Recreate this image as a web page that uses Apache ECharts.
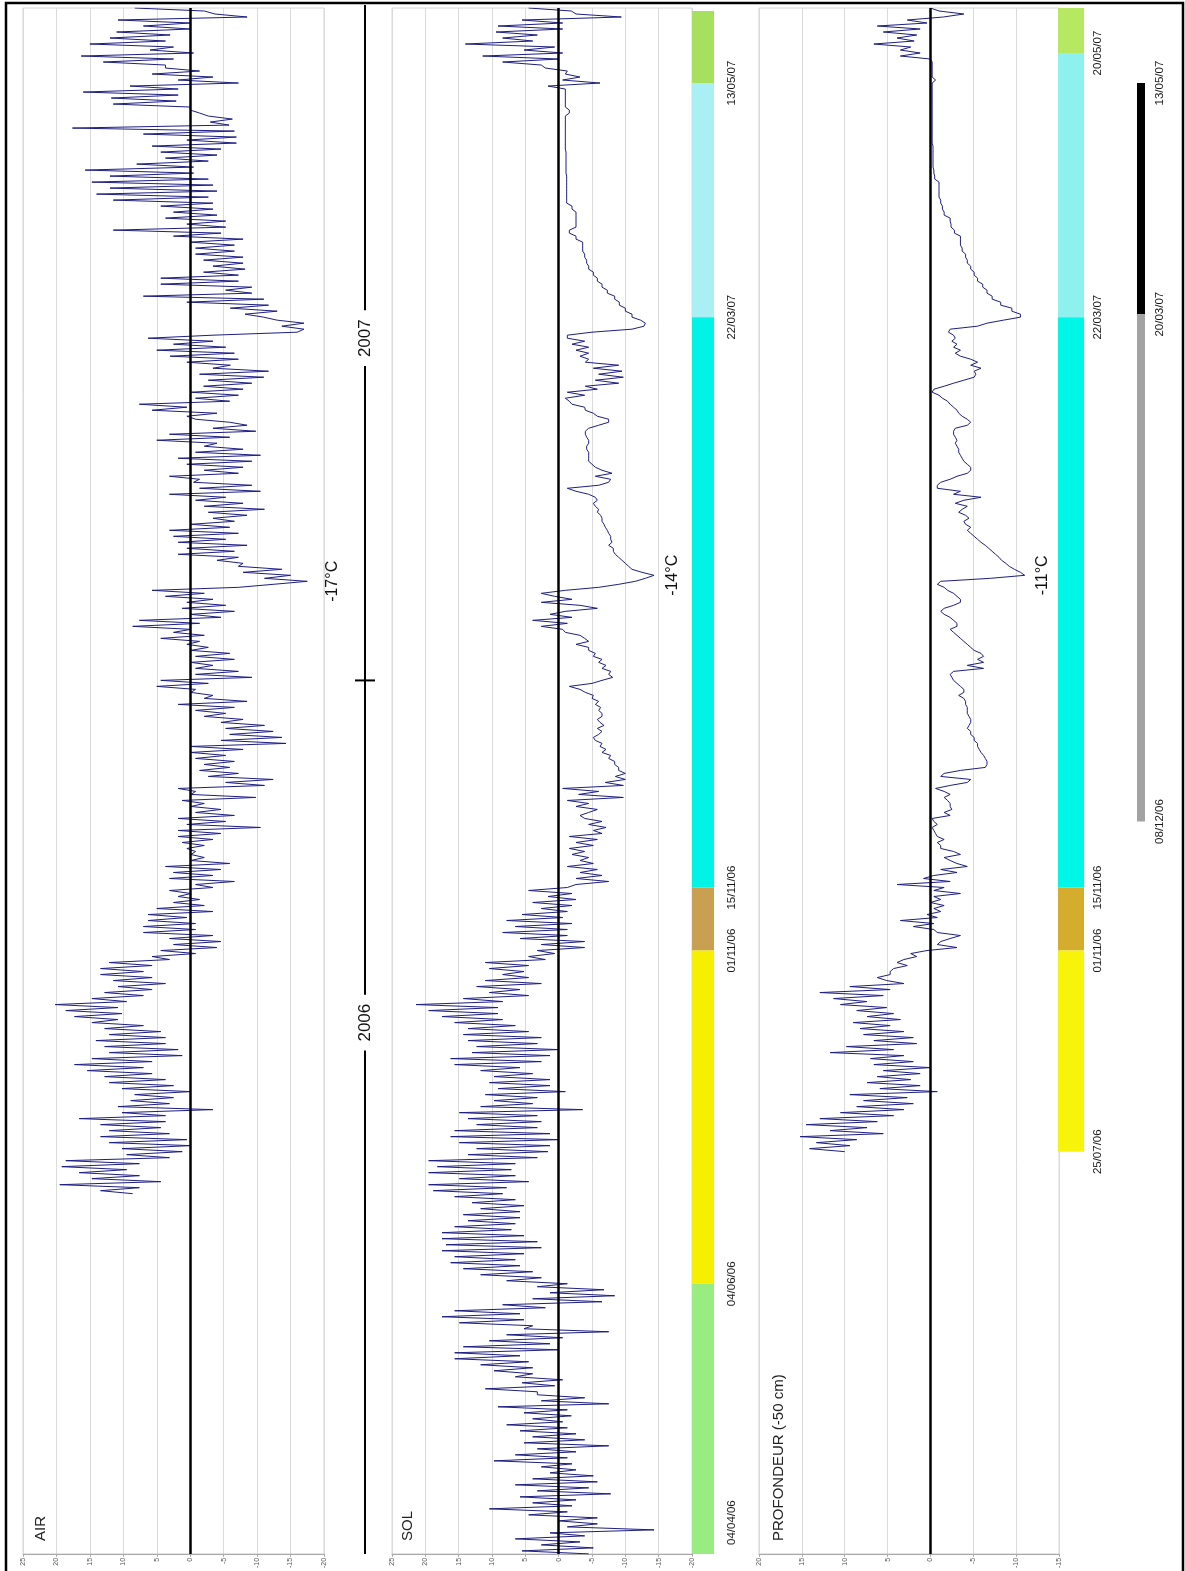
<!DOCTYPE html>
<html><head><meta charset="utf-8">
<script src="https://cdn.jsdelivr.net/npm/echarts@6/dist/echarts.min.js"></script>
<style>html,body{margin:0;padding:0;background:#fff}#c{width:1185px;height:1571px}</style>
</head><body><div id="c"></div>
<script>
// Samples ordered from most recent (top, May 2007) to oldest (bottom, April 2006).
// Temperatures in °C.
const airTemp = [
8.3,-2.1, -3.7,-8.5, 10.8,0, 7,0, 11,3, 12,3.7, 15,2.5, 6,-0.5, 16.3,2.5, 13,3.7,
3.7,-1.4, 5.7,-3.4, 1.8,-7.2, 9,1.8, 16,1.8, 11.8,2.1, 11.5,0, 0,-1.4, -2.7,-6.3, -3,-5.8,
17.6,-6.6, 7,-6.9, 0.5,-6.9, 5.7,-4.6, 4.4,-4, 3.7,-2.7, 8,-0.5, 15.7,-0.5, 12,-2.7, 14.7,-3.4,
12,-4, 14,-2.7, 11.5,-3.4, 4.4,-3.4, 2.5,-4, 3.7,-5.3, 0.5,-5.3, 11.5,-4.6, 2.5,-7.9, 0,-6.6,
-0.8,-6.6, -0.8,-7.9, -2,-7.9, -3.4,-8.2, -2,-7.2, 4.4,-7.2, 4.4,-9.2, -5.3,-9.2, 7,-11, 0.5,-11.7,
-6,-13, -8.2,-11, -13,-17, -13.7,-17, -16,-3.4, 6.3,-3.4, 2.5,-5.3, 5,-6.6, 3,-7.2, 0.5,-6,
-3.4,-11.7, -1.4,-11, -2.7,-9.2, -2,-7.9, -0.1,-7.2, -0.8,-5.9, 7.6,0.5, 5.7,-4, 0.5,-0.8, -5.9,-8.5,
-3.4,-9.8, 3.1,-5.9, 5,-4, -2.1,-7.9, -0.8,-10.5, 1.8,-9.2, 0.5,-7.9, -2.1,-7.2, 3.1,-1.4, -0.5,-9.2,
-1.4,-10.5, 3.1,-5.3, -0.8,-7.9, -2.1,-11.1, -2.7,-8.5, -3.4,-6.6, -0.1,-5.9, 3.1,-7.2, 2.5,-5.3, 1.8,-8.5,
0.5,-6.6, 1.8,-7.2, -4,-7.9, -7.2,-13.7, -7.9,-15, -11.1,-17.5, -12.4,-7.2, 5.7,-2.1, 3.7,-3.4, 0.5,-5.3,
1.2,-6.6, -0.1,-4.6, 7.6,-1.4, 8.6,-0.1, 2.5,-2.1, 4.4,-1.4, 0.5,-2.7, -0.1,-5.9, -0.8,-6.6, -0.1,-3.4,
-0.8,-7.2, -0.8,-9.2, 4.4,-2.7, 5,-0.8, -0.1,-3.4, -2.1,-8.5, 1.8,-6.6, -0.8,-5.3, -2.1,-7.9, -4.6,-11.1,
-5.3,-12.4, -5.9,-13.7, -4.6,-14.3, -0.1,-7.9, -0.1,-5.3, -0.8,-6.6, -2.1,-5.9, -1.4,-7.2, -2.7,-12.4, -5.3,-11.1,
1.8,-0.8, -0.1,-9.8, 1.2,-2.1, -0.1,-4.6, -0.8,-6.6, 1.8,-5.3, 0.5,-10.5, 1.8,-4.6, 1.8,-3.4, 1.2,-2.1,
0.5,-0.8, -0.1,-2.1, -0.1,-5.9, 3.7,-4.6, 2.5,-3.4, 3.1,-6.6, -0.8,-3.4, 3.1,-0.1, 1.8,-1.4, 2.5,-2.1,
5,-3.4, 6.3,0.5, 6.3,-0.8, 7,-0.8, 7,-3.4, 3.1,-4.6, 2.5,-4, 4.4,-0.8, 5.7,3.1, 12.1,5.7,
13.4,7, 13.4,5.7, 11.5,3.7, 10.8,5.7, 12.8,7, 14.7,9.5, 20.2,10.8, 18.6,10.2, 17.3,10.8, 14.7,7,
12.8,4.4, 12.1,3.7, 14.1,3.7, 12.8,1.8, 12.1,1.2, 14.7,5.7, 17.3,7, 15.4,5.7, 12.8,3.7, 12.1,2.5,
10.2,-0.1, 8.3,2.5, 8.9,3.1, 10.8,-3.4, 10.2,3.7, 16.6,3.7, 13.4,4.4, 12.1,3.1, 13.4,0.5, 12.1,-0.1,
10.2,1.2, 9.5,3.1, 18.6,7.6, 19.2,9.5, 16.6,7.6, 14.7,4.4, 19.5,7.6, 13.4,8.6
];
const solTemp = [
4.5,-1.9, -2.6,-9.4, 5.5,-0.6, 9.1,-0.6, 9.4,3.2, 8.4,3.9, 14,0.6, 5.2,-0.6, 11.4,0, 8.4,2.6,
2,-1.3, -1,-3.2, -0.6,-6.2, 1.6,-1, -1,-1, -1,-1, -1,-1, -1.6,-1.6, -1,-1, -1,-1,
-1,-1, -1,-1, -1,-1, -1,-1, -1.1,-1.1, -1.1,-1.1, -1.1,-1.1, -1.1,-1.1, -1.2,-1.2, -1.2,-1.2,
-1.2,-1.2, -1.2,-1.2, -1.2,-1.2, -2,-2, -2.6,-2.6, -2.6,-2.6, -2.6,-2.6, -1.6,-1.6, -2.6,-2.6, -3.6,-3.6,
-3.6,-3.6, -3.9,-3.9, -4.2,-4.2, -4.5,-4.5, -5.2,-5.2, -5.8,-5.8, -6.5,-6.5, -7.3,-7.3, -8.4,-8.4, -9.1,-9.1,
-10,-10, -11,-11, -12.3,-13, -12.8,-11, -5,-1.3, -1.3,-3.9, -2,-4.5, -2.6,-4.5, -3.2,-4.5, -4,-9,
-5.2,-9.5, -6,-9.7, -5.5,-9, -4,-5.8, -1.3,-3.9, -1,-1.6, -2,-3.9, -4,-5.2, -5.8,-7.5, -7.5,-6,
-4.5,-4, -4,-4.2, -4.5,-4.5, -4.2,-4.2, -4.5,-4.5, -4.5,-4.5, -5,-5.5, -6.5,-8, -5.5,-7.8, -7.5,-6,
-1.3,-2.6, -4.5,-5.5, -5.8,-5.2, -5.5,-6, -5.8,-6.3, -6.5,-6.5, -6.8,-7, -7.3,-7.5, -7.8,-7.8, -8,-7.5,
-8.2,-8.2, -8.5,-9, -9.5,-10, -10.5,-11, -12.5,-14.3, -13,-11.5, -9,-6, -1,2.6, 0.6,-2, 2.6,-3.2,
-5.8,-1, 1.3,-2, 3.9,-1.3, 2.6,-0.6, -1,-3.2, -3.9,-4.5, -2.6,-4.5, -4.5,-5.5, -5.2,-6.5, -6,-7.1,
-6.5,-7.8, -7.5,-8.1, -6.5,-5, -1.6,-3.2, -4,-5.2, -5,-6, -5.5,-6.3, -6,-6.5, -6.5,-5.8, -6.2,-6.8,
-5.8,-6.5, -6,-5.2, -5.5,-6.5, -6.2,-7.1, -6.5,-7.8, -7.5,-8.4, -8.4,-9, -9,-10, -8.5,-10, -7,-9.7,
-0.6,-6, -3,-9.7, -1.3,-4.5, -2.6,-5.8, -4.5,-3.2, -3.9,-6.5, -4.5,-7.1, -5.2,-6.5, -1.6,-5.8, -2.6,-5.2,
-1.6,-3.9, -2,-4.5, -3.2,-5.2, -1.3,-5.8, -3.2,-6.5, -2.6,-7.5, -2.6,-1.3, 4.5,-2, 1.6,-2.6, 3.9,-2,
2.6,-1.3, 5.5,-0.6, 7.8,-2, 6.5,-1.3, 8.4,-1.3, 5.8,-3.9, 2.6,-3.9, 3.2,0.6, 4.5,2, 11,4.5,
10.4,5.2, 8.4,4.5, 11,2.6, 12.3,5.8, 10.4,4.5, 14.3,8.4, 21.4,9.1, 19.5,9.1, 17.5,8.4, 15.6,6.5,
13.6,4.5, 14.3,2.6, 13.6,3.2, 12.3,0, 13,1.3, 16.2,2.6, 15.6,5.8, 11.7,3.9, 9.7,1.3, 10.4,1.3,
9.1,-1, 11,3.2, 9.7,3.9, 11.7,-3.6, 14.9,3.2, 13.6,2.6, 12.3,3.2, 15.6,1.3, 16.2,0, 14.9,1.3,
12.3,1.6, 13.6,3.2, 19.5,6.5, 18.2,7.1, 19.5,6.5, 14.9,4.5, 19.5,7.8, 18.8,8.4, 15.6,6.5, 13,5.2,
11.7,5.8, 14.3,5.8, 13.6,6.5, 15.6,7.1, 17.5,5.2, 17.5,3.2, 16.9,2.6, 17.5,5.2, 15.6,6.5, 16.2,5.8,
14.3,3.9, 11.7,2.6, 7.8,-1.3, 3.2,-6.8, 1.3,-8.4, 3.9,-6.5, 8.4,2, 15.6,5.8, 17.5,5.2, 14.9,3.9,
5.2,-7.5, 7.8,-0.6, 10.4,1.3, 14.3,0, 15.6,5.8, 15.6,4.5, 11.7,3.9, 9.7,3.9, 6.5,-0.6, 5.5,0.6,
11,3.2, 3.2,-3.9, 2.6,-7.5, 9.1,-1.3, 5.2,-1.9, 3.9,-0.6, 7.8,-1.3, 5.8,-2.6, 3.9,-3.9, 5.2,-7.5,
3.2,-2.6, 6.5,-1.3, 9.7,-2, 2.6,-2.6, 1.3,-5.2, 3.9,-5.8, 6.5,-4.5, 3.2,-7.8, 5.8,-2.6, 3.9,-2,
10.4,-1.3, 4.5,-5.8, 0,-5.8, -1.3,-14.3, 1.3,-3.9, 6.5,-3.2, 2.6,-5.2, 5.5,-4.5
];
const profTemp = [
0,-1, -3.9,-1.5, 2.7,0.4, 6.2,1.2, 5.5,1.6, 3.9,1.9, 6.6,2.3, 3.5,1.2, 3.5,0, -0.2,-0.2,
-0.2,-0.2, -0.2,-0.2, -0.6,-0.2, -0.2,-0.2, -0.2,-0.2, -0.2,-0.2, -0.2,-0.2, -0.2,-0.2, -0.2,-0.2, -0.2,-0.2,
-0.2,-0.2, -0.2,-0.2, -0.2,-0.2, -0.3,-0.3, -0.3,-0.3, -0.3,-0.3, -0.3,-0.3, -0.4,-0.4, -0.5,-0.5, -1,-1,
-1,-1, -1,-1, -1.2,-1.2, -1.4,-1.4, -1.6,-1.6, -2.3,-2.3, -2.4,-2.4, -2.8,-2.8, -3.5,-3.5, -3.5,-3.5,
-3.7,-3.7, -4.1,-4.1, -4.3,-4.3, -4.7,-4.7, -5.1,-5.1, -5.5,-5.5, -6.1,-6.1, -6.6,-6.6, -7.2,-7.2, -8.2,-8.2,
-9.5,-9.5, -10.5,-10.5, -8.5,-6.6, -5.5,-2.3, -2.1,-2.7, -2.9,-2.5, -3.1,-2.7, -3.5,-2.9, -3.5,-4.7, -5.5,-4.7,
-5.9,-5.1, -5.3,-5.1, -3.9,-2.7, -1.6,-0.4, -0.2,-1, -1.4,-2, -2.3,-2.7, -3.1,-3.3, -3.7,-4.3, -4.7,-4.3,
-2.9,-2.7, -2.7,-2.9, -3.1,-2.9, -3.1,-3.3, -3.3,-3.5, -3.7,-3.9, -4.3,-4.7, -4.7,-4.3, -3.1,-2.3, -1.2,-0.8,
-0.8,-3.5, -2.7,-5.9, -3.9,-2.9, -4.3,-3.7, -3.3,-4.1, -4.5,-3.9, -4.1,-4.7, -4.3,-4.7, -5.1,-5.5, -5.9,-6.4,
-6.8,-7.2, -7.6,-8, -8.3,-8.8, -9.2,-9.8, -10.5,-11, -7,-1.2, -0.8,-1.6, -2,-2.7, -3.1,-3.5, -3.5,-2.7,
-1.6,-1.2, -1.6,-2.3, -2.7,-3.1, -3.1,-2.3, -2.7,-3.1, -3.5,-3.9, -4.3,-4.7, -5.1,-5.9, -6.2,-5.5, -6.2,-4.3,
-6.2,-2.7, -2.3,-2.5, -2.7,-3.1, -3.5,-3.9, -3.9,-3.3, -3.9,-4.1, -4.1,-4.3, -4.3,-4.3, -4.5,-4.7, -4.7,-4.5,
-4.3,-4.7, -4.7,-5.1, -5.1,-5.5, -5.5,-5.7, -5.9,-6.2, -6.4,-6.6, -6.6,-6.4, -3.5,-1.6, -1.2,-4.7, -4.3,-2.3,
-0.6,-1.6, -2.3,-1.6, -2,-2.3, -2.3,-2.5, -1.6,-2.3, -0.2,-0.4, -0.8,-0.2, -0.4,-0.6, -0.8,-1.6, -0.8,-1.2,
-1.2,-2.7, -3.5,-1.6, -2.3,-3.1, -4.3,-1.2, -3.1,-0.4, 0.8,-2.3, 3.9,-1.6, -0.4,-3.5, -0.4,-1.2, 0,-1.6,
-0.4,-1.2, 0.4,-0.8, 3.5,-0.4, 2,-0.4, -0.8,-3.5, -2.3,-1.2, -0.8,-3.1, 0.4,2.3, 1.6,3.1, 3.9,2.7,
4.3,4.7, 4.7,6.2, 5.1,3.1, 9.4,4.7, 12.9,5.5, 11.3,7.4, 10.5,5.1, 8.6,4.3, 7.4,3.5, 9,4.7,
8.2,3.1, 7.8,2, 6.6,1.6, 9.8,4.3, 11.7,3.1, 7,2, 6.6,0, 5.5,1.2, 6.2,2.3, 7.4,1.2,
5.9,-0.8, 9.4,2.7, 7.8,2, 8.6,3.1, 10.5,4.3, 12.9,6.2, 14.5,7.4, 11.7,5.5, 15.2,8.6, 13.3,9.4, 14.1,10
];
// Tick labels of the temperature axes
const airRange = [-20, 25];
const solRange = [-20, 25];
const profRange = [-15, 20];
// Period bars (sample indices of the dates)
const solBarBounds = [1, 25, 103, 293, 314, 425, 515];
const solDates = ['13/05/07','22/03/07','15/11/06','01/11/06','04/06/06','04/04/06'];
const solDateIdx = [25, 103, 293, 314, 425, 512];
const profBarBounds = [0, 15, 103, 293, 314, 381];
const profDates = ['20/05/07','22/03/07','15/11/06','01/11/06','25/07/06'];
const profDateIdx = [15, 103, 293, 314, 381];
const snowBounds = [25, 102, 271];
const snowDates = ['13/05/07','20/03/07','08/12/06'];
const snowDateIdx = [25, 102, 271];
const yearLabels = ['2007', '2006'];
const yearLabelIdx = [110, 338];
const yearBoundaryIdx = 224;
const peakLabels = ['-17°C', '-14°C', '-11°C'];
const panelTitles = ['AIR', 'SOL', 'PROFONDEUR (-50 cm)'];

// ---------- styles ----------
const IDX_MAX = 515;
const FONT = '"Liberation Sans", Arial, Helvetica, sans-serif';
const LINE = '#1e1e82';
const solColors = ['#a6e05e','#aaeff4','#00f3e6','#c9a052','#f6ef00','#98ec80'];
const profColors = ['#b6e862','#8ff1ee','#00f7e8','#d5ad2e','#f8f30a'];
const snowColors = ['#000000','#a3a3a3'];

const chart = echarts.init(document.getElementById('c'), null, {renderer: 'canvas'});

function tempAxis(g, range) {
  return {type:'value', gridIndex:g, min:range[0], max:range[1], interval:5, inverse:true, position:'bottom',
    axisLine:{show:true, onZero:false, lineStyle:{color:'#a8a8a8', width:1}},
    axisTick:{show:true, length:3, lineStyle:{color:'#a8a8a8'}},
    axisLabel:{show:true, rotate:90, fontSize:7, color:'#555', margin:4, fontFamily:FONT, showMinLabel:true, showMaxLabel:true},
    splitLine:{show:true, lineStyle:{color:'#dadada', width:1}}};
}
function posAxis(g) { return {type:'value', gridIndex:g, min:0, max:IDX_MAX, inverse:true, show:false}; }
function unitAxis(g) { return {type:'value', gridIndex:g, min:0, max:1, show:false}; }

const zeroLine = {silent:true, symbol:'none', animation:false, label:{show:false},
  lineStyle:{color:'#000', width:2.5, type:'solid'}, data:[{xAxis:0}]};

function lineSeries(g, arr) {
  return {type:'line', xAxisIndex:g, yAxisIndex:g, data:arr.map((t, i) => [t, i]),
    showSymbol:false, symbol:'none', silent:true, animation:false,
    lineStyle:{color:LINE, width:1}, markLine:zeroLine, z:2};
}
function bandSeries(g, bounds, colors) {
  return {type:'custom', xAxisIndex:g, yAxisIndex:g, silent:true, animation:false, clip:false,
    encode:{y:[0,1]},
    data: colors.map((c, j) => [bounds[j], bounds[j+1], j]),
    renderItem(params, api) {
      const a = api.coord([0, api.value(0)]);
      const b = api.coord([1, api.value(1)]);
      return {type:'rect', shape:{x:a[0], y:a[1], width:b[0]-a[0], height:b[1]-a[1]},
        style:{fill:colors[api.value(2)]}};
    }};
}
function dateSeries(g, idx, texts, dx, lastAlign) {
  return {type:'custom', xAxisIndex:g, yAxisIndex:g, silent:true, animation:false, clip:false,
    encode:{y:0},
    data: idx.map((p, j) => [p, j]),
    renderItem(params, api) {
      const p = api.coord([1, api.value(0)]);
      const j = api.value(1);
      const al = (lastAlign && j === texts.length - 1) ? lastAlign : 'center';
      return {type:'text', x:p[0] + dx, y:p[1], rotation:Math.PI/2,
        style:{text:texts[j], font:'11.5px ' + FONT, fill:'#1a1a1a', align:al, verticalAlign:'middle'}};
    }};
}
function peakSeries(g, arr, label, lo, hi, dx) {
  let best = lo;
  for (let i = lo; i <= hi && i < arr.length; i++) if (arr[i] < arr[best]) best = i;
  return {type:'custom', xAxisIndex:g, yAxisIndex:g, silent:true, animation:false, clip:false,
    data:[[arr[best], best]],
    renderItem(params, api) {
      const p = api.coord([api.value(0), api.value(1)]);
      return {type:'text', x:p[0] + dx, y:p[1], rotation:Math.PI/2,
        style:{text:label, font:'16px ' + FONT, fill:'#111', align:'center', verticalAlign:'middle'}};
    }};
}
const yearSeries = {type:'custom', xAxisIndex:6, yAxisIndex:6, silent:true, animation:false, clip:false,
  data:[[0.5, yearBoundaryIdx]],
  renderItem(params, api) {
    const top = api.coord([0.5, 0]);
    const bot = api.coord([0.5, IDX_MAX]);
    const t = api.coord([0.5, api.value(1)]);
    const ch = [
      {type:'line', shape:{x1:top[0], y1:top[1] - 3, x2:bot[0], y2:bot[1]}, style:{stroke:'#000', lineWidth:2}},
      {type:'line', shape:{x1:t[0] - 10, y1:t[1], x2:t[0] + 10, y2:t[1]}, style:{stroke:'#000', lineWidth:2}}
    ];
    yearLabels.forEach((lab, j) => {
      const p = api.coord([0.5, yearLabelIdx[j]]);
      ch.push({type:'text', x:p[0], y:p[1], rotation:Math.PI/2,
        style:{text:lab, font:'17px ' + FONT, fill:'#111', align:'center', verticalAlign:'middle',
          backgroundColor:'#fff', padding:[3, 9]}});
    });
    return {type:'group', children:ch};
  }};

const gridBase = {top:8, height:1546, containLabel:false};
const panelGrid = Object.assign({}, gridBase, {show:true, borderColor:'#d6d6d6', borderWidth:1, backgroundColor:'transparent'});

function titleText(x, text) {
  return {type:'text', x:x, y:1541, rotation:Math.PI/2, silent:true,
    style:{text:text, font:'15px ' + FONT, fill:'#222', textAlign:'left', textVerticalAlign:'middle', align:'left', verticalAlign:'middle'}};
}

chart.setOption({
  animation:false,
  backgroundColor:'#fff',
  grid:[
    Object.assign({}, panelGrid, {left:23, width:301}),
    Object.assign({}, panelGrid, {left:392, width:300}),
    Object.assign({}, panelGrid, {left:759, width:300}),
    Object.assign({}, gridBase, {left:692, width:22}),
    Object.assign({}, gridBase, {left:1058, width:26}),
    Object.assign({}, gridBase, {left:1137, width:8}),
    Object.assign({}, gridBase, {left:345, width:40})
  ],
  xAxis:[tempAxis(0, airRange), tempAxis(1, solRange), tempAxis(2, profRange), unitAxis(3), unitAxis(4), unitAxis(5), unitAxis(6)],
  yAxis:[posAxis(0), posAxis(1), posAxis(2), posAxis(3), posAxis(4), posAxis(5), posAxis(6)],
  series:[
    lineSeries(0, airTemp),
    lineSeries(1, solTemp),
    lineSeries(2, profTemp),
    bandSeries(3, solBarBounds, solColors),
    bandSeries(4, profBarBounds, profColors),
    bandSeries(5, snowBounds, snowColors),
    dateSeries(3, solDateIdx, solDates, 18, 'left'),
    dateSeries(4, profDateIdx, profDates, 14),
    dateSeries(5, snowDateIdx, snowDates, 15),
    peakSeries(0, airTemp, peakLabels[0], 150, 240, 25),
    peakSeries(1, solTemp, peakLabels[1], 150, 240, 19),
    peakSeries(2, profTemp, peakLabels[2], 150, 240, 18),
    yearSeries
  ],
  graphic:[
    titleText(41, panelTitles[0]),
    titleText(408, panelTitles[1]),
    titleText(779, panelTitles[2]),
    {type:'rect', silent:true, z:100, shape:{x:6, y:3, width:1177, height:1585},
      style:{fill:'none', stroke:'#000', lineWidth:2.5}}
  ]
});
</script></body></html>
